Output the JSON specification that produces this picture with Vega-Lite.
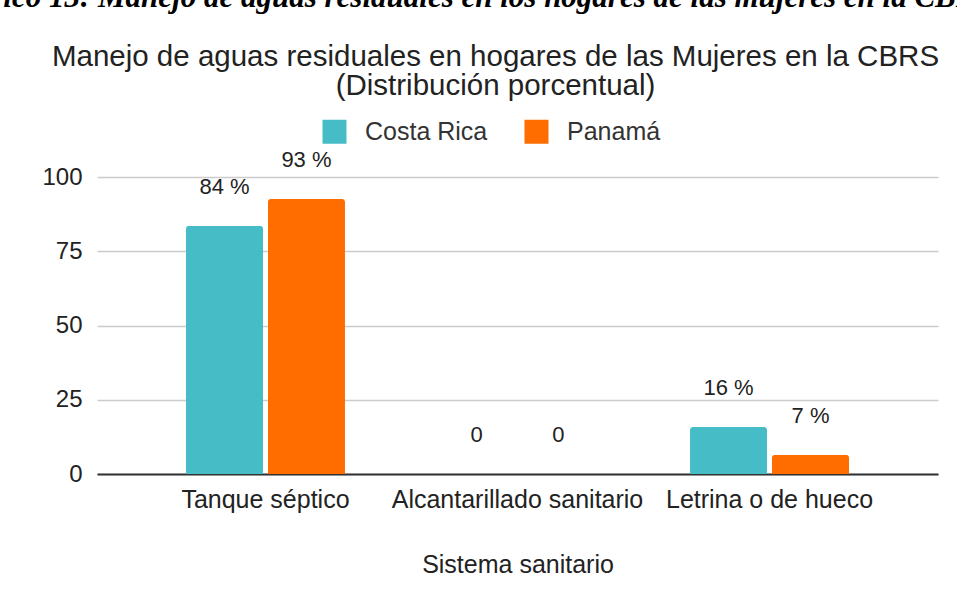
{
  "$schema": "https://vega.github.io/schema/vega-lite/v6.json",
  "autosize": {"type": "none"},
  "padding": {"left": 97, "top": 177, "right": 19, "bottom": 127},
  "width": 841,
  "height": 297,
  "background": "white",
  "title": {
    "text": "Gráfico 13: Manejo de aguas residuales en los hogares de las mujeres en la CBRS\u00a0\u00a0\u00a0\u00a0\u00a0\u00a0\u00a0\u200b",
    "subtitle": ["Manejo de aguas residuales en hogares de las Mujeres en la CBRS", "(Distribución porcentual)"],
    "anchor": "middle",
    "font": "Liberation Serif",
    "fontSize": 31,
    "fontStyle": "italic",
    "fontWeight": "bold",
    "color": "#000000",
    "subtitleFont": "Liberation Sans",
    "subtitleFontSize": 29.5,
    "subtitleColor": "#222222",
    "subtitleLineHeight": 29,
    "subtitlePadding": 29,
    "offset": 18,
    "dx": -22
  },
  "data": {
    "values": [
      {"sistema": "Tanque séptico", "pais": "Costa Rica", "valor": 83.6, "etiqueta": "84 %"},
      {"sistema": "Tanque séptico", "pais": "Panamá", "valor": 92.6, "etiqueta": "93 %"},
      {"sistema": "Alcantarillado sanitario", "pais": "Costa Rica", "valor": 0, "etiqueta": "0"},
      {"sistema": "Alcantarillado sanitario", "pais": "Panamá", "valor": 0, "etiqueta": "0"},
      {"sistema": "Letrina o de hueco", "pais": "Costa Rica", "valor": 15.8, "etiqueta": "16 %"},
      {"sistema": "Letrina o de hueco", "pais": "Panamá", "valor": 6.5, "etiqueta": "7 %"}
    ]
  },
  "encoding": {
    "x": {
      "field": "sistema",
      "type": "nominal",
      "sort": ["Tanque séptico", "Alcantarillado sanitario", "Letrina o de hueco"],
      "scale": {"paddingInner": 0.369, "paddingOuter": 0.353},
      "axis": {
        "title": "Sistema sanitario",
        "labelAngle": 0,
        "labelFont": "Liberation Sans",
        "labelFontSize": 25,
        "labelColor": "#222222",
        "labelPadding": 13,
        "labelLimit": 0,
        "ticks": false,
        "domainColor": "#333333",
        "domainWidth": 2,
        "titleFont": "Liberation Sans",
        "titleFontSize": 25,
        "titleFontWeight": "normal",
        "titleColor": "#222222",
        "titlePadding": 40
      }
    },
    "xOffset": {
      "field": "pais",
      "type": "nominal",
      "sort": ["Costa Rica", "Panamá"],
      "scale": {"paddingInner": 0.06, "paddingOuter": 0}
    },
    "y": {
      "field": "valor",
      "type": "quantitative",
      "scale": {"domain": [0, 100]},
      "axis": {
        "title": null,
        "values": [0, 25, 50, 75, 100],
        "domain": false,
        "ticks": false,
        "labelFont": "Liberation Sans",
        "labelFontSize": 24,
        "labelColor": "#222222",
        "labelPadding": 15,
        "gridColor": "#cccccc",
        "gridWidth": 1.5
      }
    }
  },
  "layer": [
    {
      "mark": {"type": "bar", "cornerRadiusTopLeft": 3, "cornerRadiusTopRight": 3},
      "encoding": {
        "color": {
          "field": "pais",
          "type": "nominal",
          "sort": ["Costa Rica", "Panamá"],
          "scale": {"domain": ["Costa Rica", "Panamá"], "range": ["#46BDC6", "#FF6D01"]},
          "legend": {
            "title": null,
            "orient": "none",
            "direction": "horizontal",
            "legendX": 225,
            "legendY": -58,
            "padding": 0,
            "symbolType": "square",
            "symbolSize": 576,
            "symbolStrokeWidth": 0,
            "labelFont": "Liberation Sans",
            "labelFontSize": 25,
            "labelColor": "#333333",
            "labelOffset": 18,
            "columnPadding": 36
          }
        }
      }
    },
    {
      "mark": {"type": "text", "baseline": "middle", "dy": -39, "font": "Liberation Sans", "fontSize": 22, "color": "#222222"},
      "encoding": {
        "text": {"field": "etiqueta", "type": "nominal"}
      }
    }
  ],
  "config": {
    "view": {"stroke": null}
  }
}
